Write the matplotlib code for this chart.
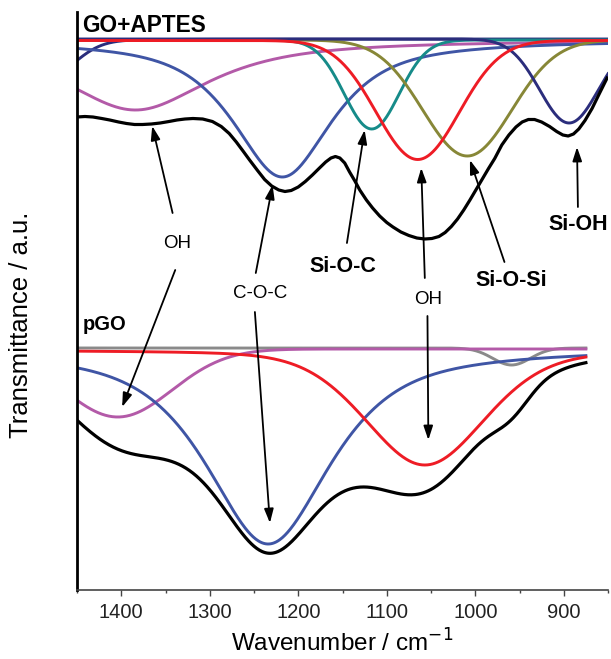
import numpy as np
import matplotlib
matplotlib.use('Agg')
import matplotlib.pyplot as plt
from matplotlib.ticker import MultipleLocator

plt.rcParams['font.family'] = ['Liberation Sans', 'DejaVu Sans']

# ---- data (transmittance, arbitrary units) ----
# GO+APTES measured spectrum
apt_wn = [1450, 1441, 1432, 1422, 1413, 1403, 1394, 1385, 1376, 1366, 1356, 1346,
          1337, 1328, 1319, 1308, 1297, 1287, 1278, 1270, 1262, 1255, 1246, 1238,
          1230, 1222, 1215, 1208, 1200, 1192, 1184, 1176, 1169, 1163, 1158, 1153,
          1147.5, 1142, 1136, 1130.5, 1123, 1116, 1108, 1100, 1093, 1084, 1075, 1066,
          1057, 1049, 1041, 1034, 1027, 1020, 1013, 1006, 999, 992, 985, 978,
          970, 962, 954, 947, 940, 933, 925, 916, 908, 901, 895, 889,
          883, 876, 868, 860, 851]
apt_T = [483, 483.5, 483, 481.5, 480, 478, 476.5, 475.5, 475.5, 476, 477, 478.5,
         480, 481, 481.5, 481, 478.5, 473.5, 466.5, 458, 448.5, 440, 429.5, 420.5,
         414, 410, 408.5, 409.5, 413, 418.5, 425, 432, 438, 442, 443.5, 442,
         437, 428, 419, 410, 400, 392, 384, 377.5, 373, 368, 364.5, 362,
         361, 361.5, 363.5, 367.5, 373.5, 381, 390, 400, 410.5, 421, 431.5, 441.5,
         455, 465, 473, 478, 480.5, 480.5, 478, 473.5, 468.5, 465, 464, 466,
         471, 479.5, 491.5, 506, 522]
# GO+APTES fitted peaks: position, half width, depth, lorentz fraction, baseline
apt_names = ['', 'OH', 'C-O-C', 'Si-O-C', 'Si-O-Si', 'Si-OH', 'OH']
apt_center = [1480, 1384, 1218, 1117, 1009, 894, 1065]
apt_hwhm = [35, 100, 67, 36.5, 59, 39, 55]
apt_depth = [36, 70, 137, 89, 116, 84, 119]
apt_eta = [0.2, 0.85, 0.8, 0.0, 0.0, 0.0, 0.0]
apt_base = [561, 560, 560, 560, 560, 561, 559.5]

# pGO fitted peaks (black curve = sum of the fit)
pgo_names = ['', 'OH', 'C-O-C', 'OH']
pgo_center = [959, 1404, 1234, 1057]
pgo_hwhm = [25, 72, 84, 80]
pgo_depth = [17, 68, 196, 115]
pgo_eta = [0.0, 0.0, 0.75, 0.25]
pgo_base = [252, 251, 252, 250]
pgo_level = 252

apt_colors = ['#2B2D7C', '#B35AA8', '#3F55A5', '#168B89', '#878737', '#2B2D7C', '#EE1C25']
pgo_colors = ['#8A8A8A', '#B35AA8', '#3F55A5', '#EE1C25']


def peak(x, c, w, a, eta, base):
    d = (x - c) / w
    shape = eta / (1 + d ** 2) + (1 - eta) * np.exp(-np.log(2) * d ** 2)
    return base - a * shape


fig = plt.figure(figsize=(6.11, 6.59), dpi=100)
ax = fig.add_axes([77 / 611, 1 - 590 / 659, 531 / 611, 578 / 659])

x1 = np.linspace(1450, 850, 601)
for i in range(len(apt_center)):
    ax.plot(x1, peak(x1, apt_center[i], apt_hwhm[i], apt_depth[i], apt_eta[i], apt_base[i]),
            color=apt_colors[i], lw=2.1)
ax.plot(apt_wn, apt_T, color='k', lw=2.3, solid_joinstyle='round')

x2 = np.linspace(1450, 875, 576)
pgo_sum = np.full_like(x2, pgo_level)
for i in range(len(pgo_center)):
    comp = peak(x2, pgo_center[i], pgo_hwhm[i], pgo_depth[i], pgo_eta[i], pgo_base[i])
    ax.plot(x2, comp, color=pgo_colors[i], lw=2.1)
    pgo_sum += comp - pgo_base[i]
ax.plot(x2, pgo_sum, color='k', lw=2.3)

ax.set_xlim(1450, 850)
ax.set_ylim(10, 588)

# labels and arrows
ap = dict(arrowstyle='-|>,head_length=0.6,head_width=0.2', mutation_scale=14,
          lw=1.3, color='k', shrinkA=0, shrinkB=0)
ax.text(1444, 575, 'GO+APTES', fontsize=16.3, fontweight='bold', ha='left', va='center')
ax.text(1444, 275, 'pGO', fontsize=14.5, fontweight='bold', ha='left', va='center')

ax.text(1337, 356, 'OH', fontsize=13.5, ha='center', va='center')
ax.annotate('', xy=(1365, 474), xytext=(1342, 387), arrowprops=ap)
ax.annotate('', xy=(1399, 193), xytext=(1339, 330), arrowprops=ap)

ax.text(1243, 307, 'C-O-C', fontsize=13.5, ha='center', va='center')
ax.annotate('', xy=(1229, 415), xytext=(1248, 327), arrowprops=ap)
ax.annotate('', xy=(1232, 77), xytext=(1249, 288), arrowprops=ap)

ax.text(1150, 333, 'Si-O-C', fontsize=15.5, fontweight='bold', ha='center', va='center')
ax.annotate('', xy=(1125, 470), xytext=(1145, 357), arrowprops=ap)

ax.text(1053, 300, 'OH', fontsize=13.5, ha='center', va='center')
ax.annotate('', xy=(1061, 432), xytext=(1057, 322), arrowprops=ap)
ax.annotate('', xy=(1053, 160), xytext=(1054, 284), arrowprops=ap)

ax.text(959, 320, 'Si-O-Si', fontsize=15.5, fontweight='bold', ha='center', va='center')
ax.annotate('', xy=(1006, 440), xytext=(967, 338), arrowprops=ap)

ax.text(884, 375, 'Si-OH', fontsize=15.5, fontweight='bold', ha='center', va='center')
ax.annotate('', xy=(885, 453), xytext=(884, 393), arrowprops=ap)

# axes styling
ax.spines['top'].set_visible(False)
ax.spines['right'].set_visible(False)
ax.spines['left'].set_linewidth(2)
ax.spines['bottom'].set_linewidth(1.2)
ax.spines['bottom'].set_color('#444444')
ax.set_yticks([])
ax.xaxis.set_major_locator(MultipleLocator(100))
ax.xaxis.set_minor_locator(MultipleLocator(50))
ax.tick_params(axis='x', which='major', direction='out', length=4, width=1, colors='#444444',
               labelsize=14.5, labelcolor='#222222', pad=5)
ax.tick_params(axis='x', which='minor', direction='out', length=2.5, width=1, colors='#444444')

ax.set_xlabel('Wavenumber / cm$^{-1}$', fontsize=17.5, labelpad=6)
ax.set_ylabel('Transmittance / a.u.', fontsize=18.5)
ax.yaxis.set_label_coords(-0.082, 0.458)

fig.savefig('out.png', dpi=100)
